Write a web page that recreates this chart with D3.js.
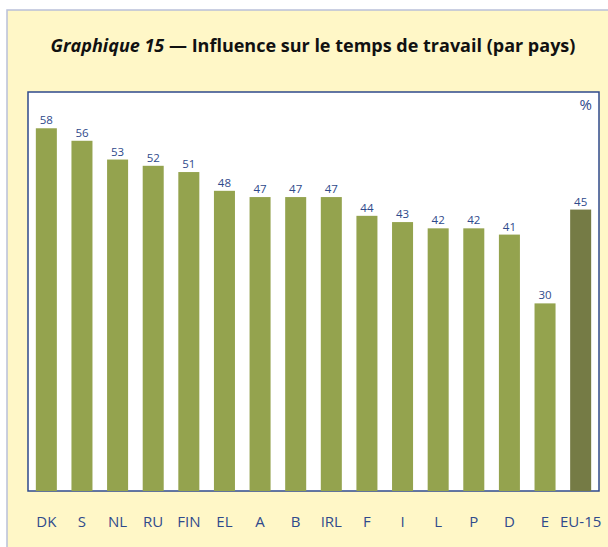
<!DOCTYPE html>
<html>
<head>
<meta charset="utf-8">
<script src="https://cdn.jsdelivr.net/npm/d3@7"></script>
<style>
  body { margin: 0; background: #fff; }
  svg { display: block; }
  text { font-family: "Open Sans", "Noto Sans", sans-serif; }
</style>
</head>
<body>
<script>
'use strict';

// data
var countries = ['DK', 'S', 'NL', 'RU', 'FIN', 'EL', 'A', 'B', 'IRL', 'F', 'I', 'L', 'P', 'D', 'E', 'EU-15'];
var values = [58, 56, 53, 52, 51, 48, 47, 47, 47, 44, 43, 42, 42, 41, 30, 45];

var W = 608, H = 547;
var box = { left: 28, top: 92, right: 599, bottom: 491 };
var blue = '#2f4a8c';

var svg = d3.select('body').append('svg').attr('width', W).attr('height', H);

// yellow panel
svg.append('rect').attr('x', 7).attr('y', 10).attr('width', W).attr('height', H)
  .style('fill', '#fff7c7').style('stroke', '#b9c0d9').style('stroke-width', 1.5);

// title
var title = svg.append('text').attr('x', 313).attr('y', 52).attr('text-anchor', 'middle')
  .style('font-size', '18px').style('font-weight', 'bold').style('fill', '#111');
title.append('tspan').style('font-style', 'italic').text('Graphique 15');
title.append('tspan').text(' \u2014 Influence sur le temps de travail (par pays)');

// plot box
svg.append('rect').attr('x', box.left).attr('y', box.top)
  .attr('width', box.right - box.left).attr('height', box.bottom - box.top)
  .style('fill', '#fff').style('stroke', blue).style('stroke-width', 1.5);

//scales
var xScale = d3.scaleBand().domain(countries).range([box.left, box.right])
  .paddingInner(0.41).paddingOuter(0.22);
var yScale = d3.scaleLinear().domain([0, 63.8]).range([box.bottom, box.top]);

var data = countries.map(function (c, i) { return { c: c, v: values[i] }; });

svg.selectAll('.bar').data(data).enter().append('rect').attr('class', 'bar')
  .attr('x', function (d) { return xScale(d.c); })
  .attr('y', function (d) { return yScale(d.v); })
  .attr('width', xScale.bandwidth())
  .attr('height', function (d) { return yScale(0) - yScale(d.v); })
  .style('fill', function (d) { return d.c === 'EU-15' ? '#757b45' : '#94a34e'; });

svg.selectAll('.val').data(data).enter().append('text').attr('class', 'val')
  .attr('x', function (d) { return xScale(d.c) + xScale.bandwidth() / 2; })
  .attr('y', function (d) { return yScale(d.v) - 4; })
  .attr('text-anchor', 'middle').style('font-size', '11.5px').style('fill', blue)
  .text(function (d) { return d.v; });

// x-axis labels
var xAxis = svg.append('g').attr('transform', 'translate(0,' + box.bottom + ')')
  .call(d3.axisBottom(xScale).tickSize(0).tickPadding(25));
xAxis.select('.domain').remove();
xAxis.selectAll('text').style('font-size', '15px').style('fill', blue)
  .style('font-family', '"Open Sans", "Noto Sans", sans-serif');

svg.append('text').attr('x', 592).attr('y', 110).attr('text-anchor', 'end')
  .style('font-size', '15px').style('fill', blue).text('%');
</script>
</body>
</html>
